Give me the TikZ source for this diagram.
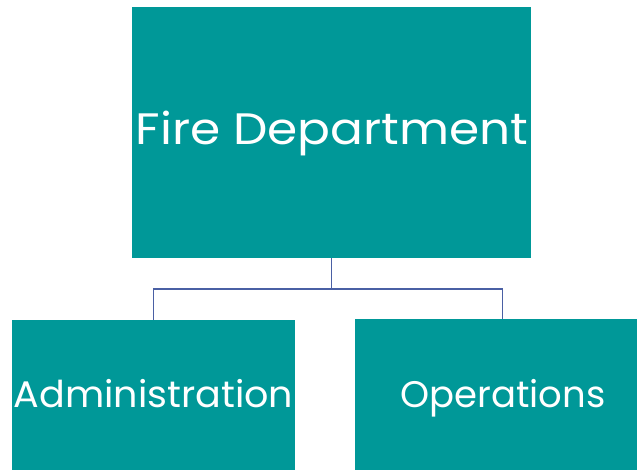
\documentclass[tikz,border=0pt]{standalone}
\usepackage{fontspec}
\setmainfont{Poppins}
\definecolor{teal1}{RGB}{0,152,152}
\definecolor{conn}{RGB}{74,96,164}
\begin{document}
\begin{tikzpicture}[x=1pt,y=-1pt,
  box/.style={fill=teal1,draw=none,text=white,inner sep=0pt,anchor=north west},
  lbl/.style={text=white,inner sep=0pt,anchor=base},
  link/.style={draw=conn,line width=1.5pt}]
\useasboundingbox (0,0) rectangle (637,470);
\node[box,minimum width=399pt,minimum height=251pt] (fd) at (132,7) {};
\node[lbl,font=\fontsize{44}{52}\selectfont] (fdt) at (332,145) {\scalebox{1.105}[1]{Fire Department}};
\node[box,minimum width=283pt,minimum height=150pt] (ad) at (12,320) {};
\node[lbl,font=\fontsize{37}{44}\selectfont] (adt) at (153.5,407.5) {\scalebox{1.03}[1]{Administration}};
\node[box,minimum width=282pt,minimum height=151pt] (op) at (355,319) {};
\node[lbl,font=\fontsize{37}{44}\selectfont] (opt) at (503,407.5) {Operations};
\coordinate (mid) at (fd.south |- 0,289);
\draw[link] (fd.south) -- (mid);
\draw[link] (ad.north -| 153.5,0) |- (mid) -| (op.north -| 502.5,0);
\end{tikzpicture}
\end{document}
